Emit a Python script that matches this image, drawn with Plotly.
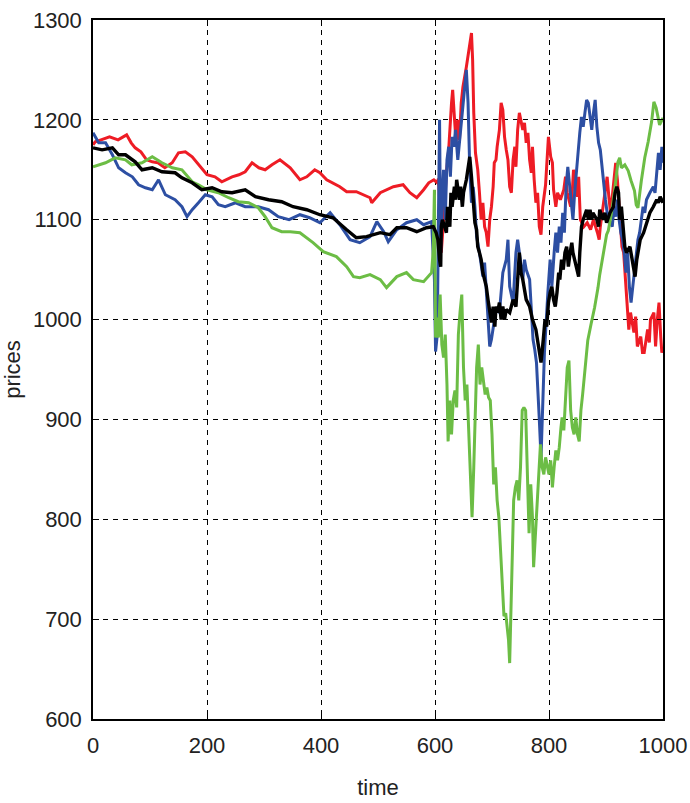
import plotly.graph_objects as go

# (time, price) readings for each path
red = [(0,1175),(4,1178),(14,1180),(29,1183),(44,1180),(59,1185),(67,1177),(74,1172),(84,1168),(94,1160),(104,1158),
       (114,1157),(126,1152),(139,1157),(150,1167),(162,1168),(174,1163),(185,1155),(200,1145),(214,1143),(226,1138),
       (244,1143),(256,1145),(267,1148),(279,1157),(291,1152),(302,1150),(314,1155),(328,1160),(346,1152),(363,1140),
       (375,1143),(389,1150),(398,1147),(410,1140),(433,1133),(445,1128),(462,1128),(486,1122),(489,1117),(504,1127),
       (527,1133),(544,1135),(556,1127),(568,1122),(580,1130),(589,1137),(598,1140),
       (604,1137),(606,1141),(609,1110),(611,1067),(614,1090),(617,1117),(620,1147),(624,1170),(629,1217),(631,1230),
       (634,1203),(637,1177),(640,1200),(643,1180),(646,1217),(649,1233),(655,1253),(659,1270),(662,1283),(664,1287),
       (666,1260),(668,1207),(671,1167),(675,1150),(678,1127),(681,1100),(684,1117),(687,1093),(690,1087),(693,1073),
       (696,1100),(699,1113),(702,1133),(704,1157),(707,1160),(709,1173),(713,1190),(716,1217),(719,1210),(722,1183),
       (725,1170),(728,1160),(731,1133),(734,1127),(737,1160),(740,1173),(742,1153),(745,1190),(748,1207),(751,1200),
       (754,1190),(757,1197),(760,1177),(763,1187),(766,1160),(769,1147),(771,1173),(774,1140),(777,1117),(780,1127),
       (783,1093),(786,1085),(789,1113),(794,1135),(797,1160),(799,1183),(803,1163),(806,1157),(808,1130),(812,1113),
       (815,1127),(820,1120),(826,1130),(829,1143),(832,1127),(838,1113),(841,1130),(843,1150),(846,1140),(850,1123),
       (852,1143),(855,1100),(861,1093),(867,1097),(873,1090),(878,1100),(885,1087),(888,1080),(890,1093),(896,1120),
       (902,1143),(905,1123),(908,1107),(911,1123),(914,1143),(917,1157),(920,1140),(922,1123),(925,1090),(928,1073),
       (931,1067),(934,1040),(937,1017),(940,990),(943,1007),(949,987),(952,1003),(955,973),(961,983),(964,967),
       (967,967),(973,990),(976,977),(978,1000),(984,1007),(987,973),(990,1000),(993,1017),(996,983),(998,967),(1000,970)]

blue = [(0,1187),(10,1177),(22,1177),(34,1165),(45,1152),(57,1147),(69,1143),(80,1135),(92,1132),(104,1130),(115,1140),
        (127,1125),(144,1120),(156,1113),(165,1103),(174,1110),(185,1117),(197,1125),(209,1123),(220,1115),(232,1113),
        (250,1117),(267,1113),(290,1113),(308,1110),(325,1103),(344,1100),(363,1105),(380,1102),(398,1097),(416,1107),
        (433,1095),(451,1080),(468,1077),(486,1083),(498,1098),(510,1088),(518,1078),(533,1090),(550,1097),(568,1100),
        (580,1095),(594,1098),
        (599,1040),(601,968),(604,985),(606,1100),(608,1200),(610,1067),(612,1117),(615,1150),(618,1100),(621,1160),
        (624,1173),(627,1143),(630,1183),(633,1173),(636,1190),(640,1160),(644,1183),(649,1213),(652,1233),(655,1250),
        (658,1217),(661,1150),(664,1117),(667,1133),(670,1113),(673,1083),(678,1067),(684,1043),(687,1057),(690,1027),
        (693,1000),(696,973),(699,980),(702,993),(707,1010),(713,1007),(716,1027),(719,1047),(725,1060),(728,1080),
        (731,1033),(737,1017),(742,1067),(745,1080),(748,1067),(754,1040),(757,1060),(760,1050),(766,1040),(769,1007),
        (772,980),(775,970),(778,957),(783,900),(786,862),(792,967),(795,1000),(798,1027),(802,1060),(805,1033),
        (809,1067),(812,1087),(815,1067),(818,1093),(821,1077),(824,1107),(827,1087),(830,1133),(833,1153),(836,1133),
        (839,1113),(842,1100),(845,1127),(848,1147),(851,1173),(854,1187),(857,1203),(860,1193),(863,1207),(866,1220),
        (869,1217),(872,1200),(875,1190),(878,1207),(881,1220),(884,1193),(887,1177),(890,1170),(893,1153),(896,1133),
        (899,1120),(902,1107),(905,1100),(911,1093),(914,1113),(917,1103),(920,1120),(923,1100),(926,1087),(929,1080),
        (932,1067),(935,1047),(938,1067),(941,1033),(944,1017),(947,1033),(950,1047),(953,1067),(956,1080),(959,1087),
        (962,1103),(965,1113),(968,1107),(971,1120),(977,1127),(983,1133),(986,1127),(989,1147),(992,1167),(995,1150),
        (998,1173),(1000,1157)]

green = [(0,1153),(22,1157),(39,1162),(57,1160),(68,1155),(86,1157),(104,1163),(121,1157),(139,1152),(156,1150),
         (174,1138),(185,1135),(200,1130),(220,1127),(238,1122),(255,1118),(273,1117),(290,1112),(302,1103),(314,1092),
         (331,1088),(346,1088),(363,1087),(386,1077),(404,1068),(427,1063),(445,1053),(457,1043),(468,1042),(486,1045),
         (504,1040),(515,1032),(533,1043),(550,1047),(562,1040),(580,1038),(594,1047),
         (597,1070),(599,1130),(600,1050),(601,982),(603,1002),(606,982),(609,1025),(612,975),(615,962),(618,985),
         (621,935),(623,878),(626,919),(629,885),(632,919),(635,929),(638,912),(641,985),(644,1008),(647,1025),
         (650,952),(653,919),(656,935),(659,885),(662,835),(665,802),(668,852),(671,902),(673,952),(676,975),
         (679,935),(682,952),(685,939),(688,925),(691,932),(694,922),(697,919),(700,885),(703,835),(706,852),
         (709,819),(712,802),(715,769),(718,736),(721,703),(724,706),(726,693),(729,679),(731,656),(733,703),
         (735,752),(738,819),(741,832),(744,839),(747,819),(750,852),(753,909),(756,912),(759,909),(762,852),
         (765,786),(768,835),(771,802),(773,752),(776,786),(779,819),(782,845),(785,875),(788,852),(791,845),
         (794,862),(797,852),(800,845),(803,859),(806,832),(809,852),(812,869),(815,859),(818,872),(821,892),
         (823,902),(826,889),(829,919),(832,952),(835,959),(838,909),(841,892),(844,885),(847,902),(850,885),
         (853,878),(856,909),(859,925),(863,952),(868,979),(874,996),(880,1012),(886,1032),(889,1045),(895,1065),
         (901,1085),(904,1089),(909,1105),(915,1129),(921,1158),(924,1162),(927,1152),(933,1155),(939,1149),
         (944,1139),(950,1129),(953,1115),(956,1112),(962,1139),(968,1162),(974,1178),(980,1198),(984,1218),
         (988,1212),(994,1195),(1000,1202)]

black = [(0,1172),(16,1170),(34,1172),(45,1165),(57,1165),(74,1158),(86,1150),(104,1152),(121,1148),(144,1147),
         (156,1142),(174,1137),(191,1130),(209,1132),(226,1128),(244,1127),(267,1130),(285,1123),(308,1120),(331,1118),
         (351,1113),(375,1110),(398,1105),(421,1102),(445,1090),(462,1082),(480,1083),(504,1087),(521,1085),(533,1092),
         (550,1092),(568,1088),(585,1092),(597,1093),
         (602,1087),(605,1080),(608,1060),(610,1053),(611,1093),(613,1100),(620,1087),(622,1113),(626,1093),(628,1127),
         (630,1113),(634,1133),(636,1120),(638,1140),(643,1120),(645,1133),(648,1113),(650,1127),(655,1140),(658,1153),
         (661,1163),(664,1143),(667,1113),(670,1097),(673,1090),(675,1073),(678,1067),(681,1060),(684,1047),(687,1040),
         (690,1033),(693,1020),(696,1007),(699,997),(702,1013),(705,993),(707,1013),(710,1007),(713,1017),(716,1000),
         (719,1013),(722,1000),(725,1010),(731,1007),(737,1020),(742,1013),(748,1067),(751,1047),(754,1040),(757,1027),
         (760,1020),(766,1013),(771,1000),(777,990),(783,970),(786,957),(790,980),(793,1000),(796,993),(799,1017),
         (802,1027),(805,1033),(808,1020),(811,1013),(814,1027),(817,1047),(819,1040),(822,1060),(825,1050),(828,1067),
         (831,1073),(834,1053),(837,1067),(840,1077),(842,1067),(849,1050),(852,1043),(854,1067),(857,1093),(860,1100),
         (866,1110),(869,1100),(872,1110),(875,1100),(877,1107),(884,1100),(887,1093),(889,1110),(895,1100),(898,1107),
         (901,1097),(907,1107),(913,1113),(916,1127),(919,1133),(922,1127),(924,1100),(927,1113),(930,1087),(933,1073),
         (936,1067),(942,1073),(948,1053),(951,1043),(954,1060),(957,1073),(960,1080),(966,1087),(969,1093),(972,1100),
         (977,1107),(983,1113),(989,1120),(992,1117),(995,1123),(1000,1117)]

x_ticks = [0, 200, 400, 600, 800, 1000]
y_ticks = [600, 700, 800, 900, 1000, 1100, 1200, 1300]

series = [("red", red, "#ee1c25", 3.0), ("blue", blue, "#2d4fa3", 3.0),
          ("green", green, "#6cbd45", 3.0), ("black", black, "#000000", 3.4)]

fig = go.Figure()
for name, pts, color, w in series:
    fig.add_trace(go.Scatter(x=[p[0] for p in pts], y=[p[1] for p in pts], mode="lines",
                             line=dict(color=color, width=w), name=name, showlegend=False))

tick_font = dict(family="Liberation Sans Narrow, Arial Narrow, Liberation Sans, Arial, sans-serif",
                 size=22, color="#222")
axis_common = dict(showline=True, linecolor="black", linewidth=1.5, mirror="ticks",
                   ticks="inside", ticklen=6, tickcolor="black", tickwidth=1.2,
                   showgrid=True, gridcolor="black", gridwidth=1, griddash="5px,5px",
                   zeroline=False, tickfont=tick_font, automargin=False,
                   ticklabeloverflow="allow")

fig.update_xaxes(range=[0, 1000], tickvals=x_ticks, ticktext=[str(v) for v in x_ticks],
                 title=dict(text="time", font=tick_font, standoff=22), ticklabelstandoff=6,
                 **axis_common)
fig.update_yaxes(range=[600, 1300], tickvals=y_ticks, ticktext=[str(v) for v in y_ticks],
                 title=dict(text="prices", font=tick_font, standoff=9), ticklabelstandoff=5,
                 **axis_common)

fig.update_layout(width=690, height=803, margin=dict(l=93, r=27, t=20, b=84),
                  paper_bgcolor="white", plot_bgcolor="white")

fig.write_html("out.html")
